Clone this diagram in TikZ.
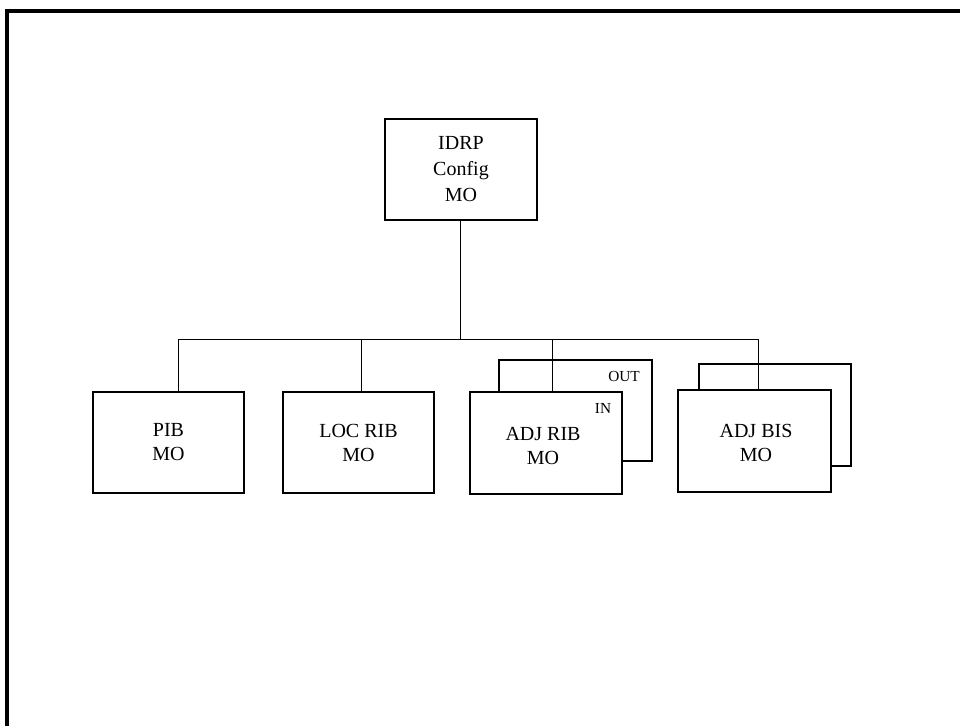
\documentclass[tikz,border=0pt]{standalone}
\usepackage{fontspec}
\setmainfont{Liberation Serif}
\begin{document}
\begin{tikzpicture}[x=0.75pt,y=-0.75pt,
  box/.style={draw=black,fill=white,line width=0.8pt,rectangle,inner sep=0pt,align=center,
    font=\fontsize{15}{18}\selectfont},
  conn/.style={draw=black,line width=0.75pt},
  small/.style={font=\fontsize{11.5}{13}\selectfont,inner sep=0pt}]
\useasboundingbox (0,0) rectangle (960,726);
% frame
\draw[line width=2.4pt] (7,726) -- (7,11) -- (960,11);
% top box
\node[box,minimum width=114pt,minimum height=75.75pt,font=\fontsize{15}{19.5}\selectfont] (idrp) at (461,169.5) {IDRP\\Config\\MO};
% children
\node[box,minimum width=113.25pt,minimum height=75.75pt] (pib) at (168.5,442.5) {PIB\\MO};
\node[box,minimum width=113.25pt,minimum height=75.75pt] (loc) at (358.5,442.5) {LOC RIB\\MO};
\node[box,minimum width=114.75pt,minimum height=75.75pt] (ribback) at (575.5,410.5) {};
\node[box,minimum width=114pt,minimum height=76.5pt] (rib) at (546,443) {};
\node[font=\fontsize{15}{18}\selectfont,align=center,inner sep=0pt] (ribtext) at (543,446) {ADJ RIB\\MO};
\node[box,minimum width=114pt,minimum height=76.5pt] (bisback) at (775,415) {};
\node[box,minimum width=114.75pt,minimum height=76.5pt] (bis) at (754.5,441) {};
\node[font=\fontsize{15}{18}\selectfont,align=center,inner sep=0pt] (bistext) at (756,443) {ADJ BIS\\MO};
\node[small] (out) at (624,376) {OUT};
\node[small] (in) at (603,408) {IN};
% connectors
\coordinate (bus) at (460,339);
\coordinate (b1) at (178,339);
\coordinate (b2) at (361,339);
\coordinate (b3) at (552,339);
\coordinate (b4) at (758,339);
\draw[conn] (idrp.south -| bus) -- (bus);
\draw[conn] (b1) -- (b4);
\draw[conn] (b1) -- (b1 |- pib.north);
\draw[conn] (b2) -- (b2 |- loc.north);
\draw[conn] (b3) -- (b3 |- rib.north);
\draw[conn] (b4) -- (b4 |- bis.north);
\end{tikzpicture}
\end{document}
